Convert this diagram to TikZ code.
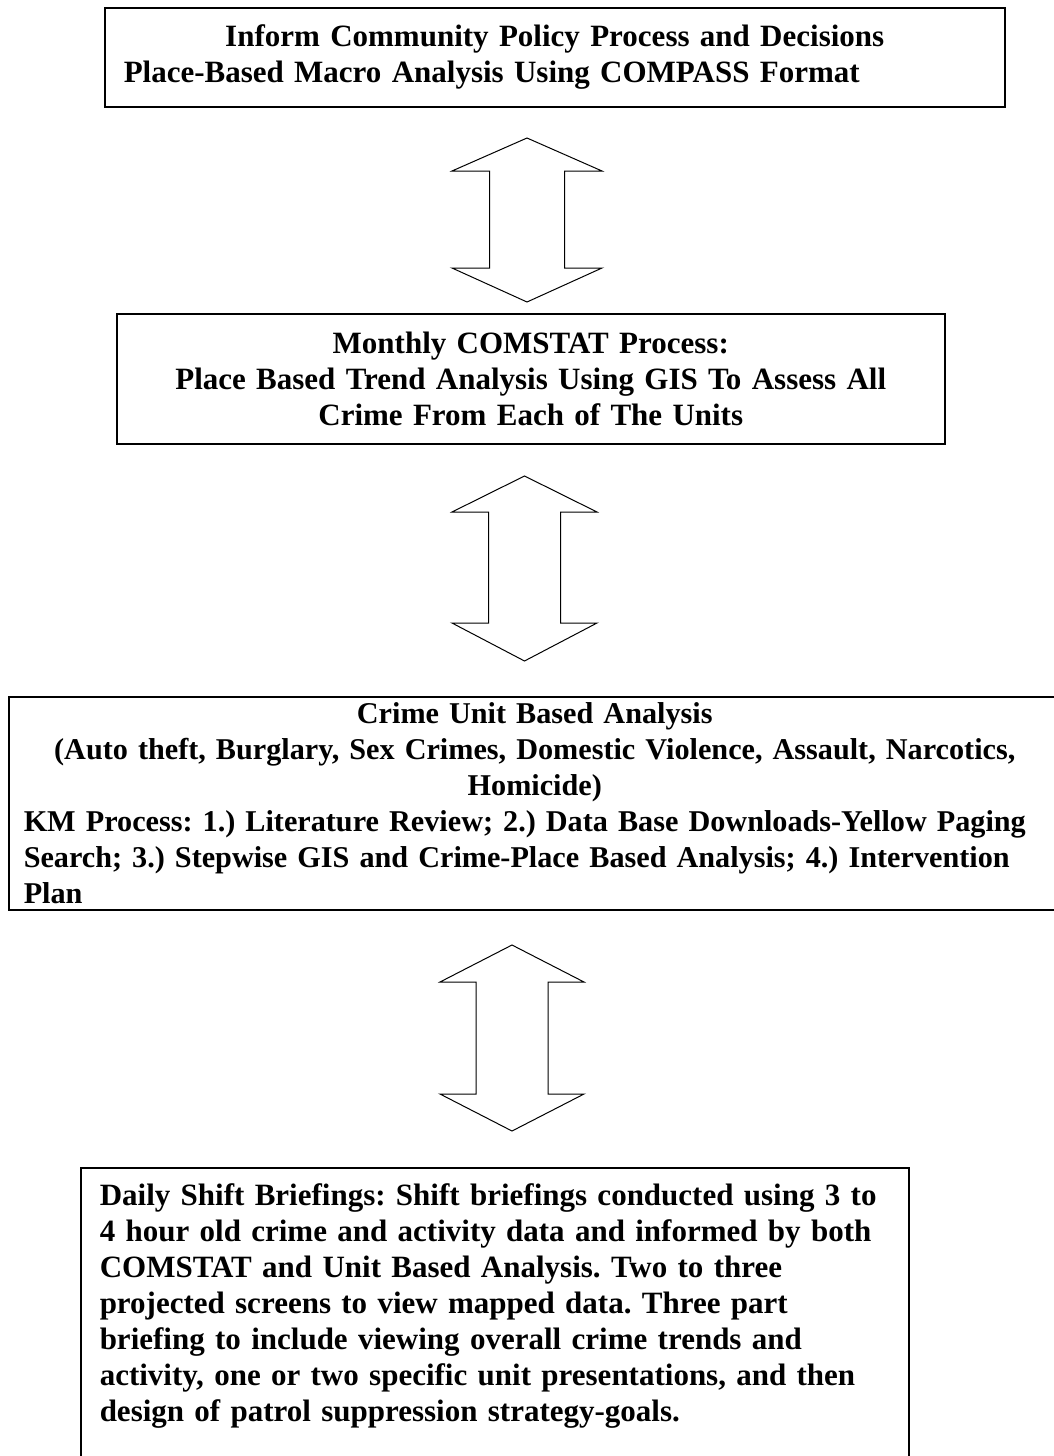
\documentclass[tikz,border=0pt]{standalone}
\usepackage{fontspec}
\setmainfont{Liberation Serif}

\tikzset{
  box/.style={draw, line width=1.5pt, anchor=north west, inner xsep=19pt, inner ysep=0pt,
    font=\bfseries\frenchspacing\fontsize{31}{36}\selectfont},
  updown/.style={draw, line width=1pt, fill=white}
}

\begin{document}
\begin{tikzpicture}[x=1pt, y=-1pt]
   \fill[white] (0,0) rectangle (1054,1456);
   \clip (0,0) rectangle (1054,1456);

   \node[box, minimum width=900pt, minimum height=99pt, text width=862pt, align=left] (policy) at (104,7)
     {\makebox[862pt][c]{Inform Community Policy Process and Decisions}\\
      Place-Based Macro Analysis Using COMPASS Format};
   \node[box, minimum width=828pt, minimum height=130pt, text width=790pt, align=center] (comstat) at (116,313)
     {Monthly COMSTAT Process:\\
      Place Based Trend Analysis Using GIS To Assess All\\
      Crime From Each of The Units};
   \node[box, inner xsep=15pt, minimum width=1052pt, minimum height=213pt, text width=1022pt, align=left,
     font=\bfseries\frenchspacing\fontsize{30.2}{36}\selectfont] (unit) at (8,696)
     {\makebox[1022pt][c]{Crime Unit Based Analysis}\\
      \makebox[1022pt][c]{(Auto theft, Burglary, Sex Crimes, Domestic Violence, Assault, Narcotics,}\\
      \makebox[1022pt][c]{Homicide)}\\
      \mbox{KM Process: 1.) Literature Review; 2.) Data Base Downloads-Yellow Paging}\\
      \mbox{Search; 3.) Stepwise GIS and Crime-Place Based Analysis; 4.) Intervention}\\
      Plan};
   \node[box, inner ysep=16pt, minimum width=828pt, text width=790pt, align=left] (briefing) at (80,1167)
     {Daily Shift Briefings: Shift briefings conducted using 3 to\\
      4 hour old crime and activity data and informed by both\\
      COMSTAT and Unit Based Analysis. Two to three\\
      projected screens to view mapped data. Three part\\
      briefing to include viewing overall crime trends and\\
      activity, one or two specific unit presentations, and then\\
      design of patrol suppression strategy-goals.\\
      \mbox{}};

   % block arrows between the boxes
   \coordinate (ud1) at (527,138);
   \coordinate (ud2) at (524.5,476);
   \coordinate (ud3) at (512,945);
   \draw[updown] (ud1) -- ++(75,33) -- ++(-37.5,0) -- ++(0,97) -- ++(37.5,0) -- ++(-75,34)
      -- ++(-75,-34) -- ++(37.5,0) -- ++(0,-97) -- ++(-37.5,0) -- cycle;
   \draw[updown] (ud2) -- ++(72.5,36) -- ++(-36.5,0) -- ++(0,111) -- ++(36.5,0) -- ++(-72.5,38)
      -- ++(-72.5,-38) -- ++(36.5,0) -- ++(0,-111) -- ++(-36.5,0) -- cycle;
   \draw[updown] (ud3) -- ++(72,37) -- ++(-36,0) -- ++(0,112) -- ++(36,0) -- ++(-72,37)
      -- ++(-72,-37) -- ++(36,0) -- ++(0,-112) -- ++(-36,0) -- cycle;
\end{tikzpicture}
\end{document}
